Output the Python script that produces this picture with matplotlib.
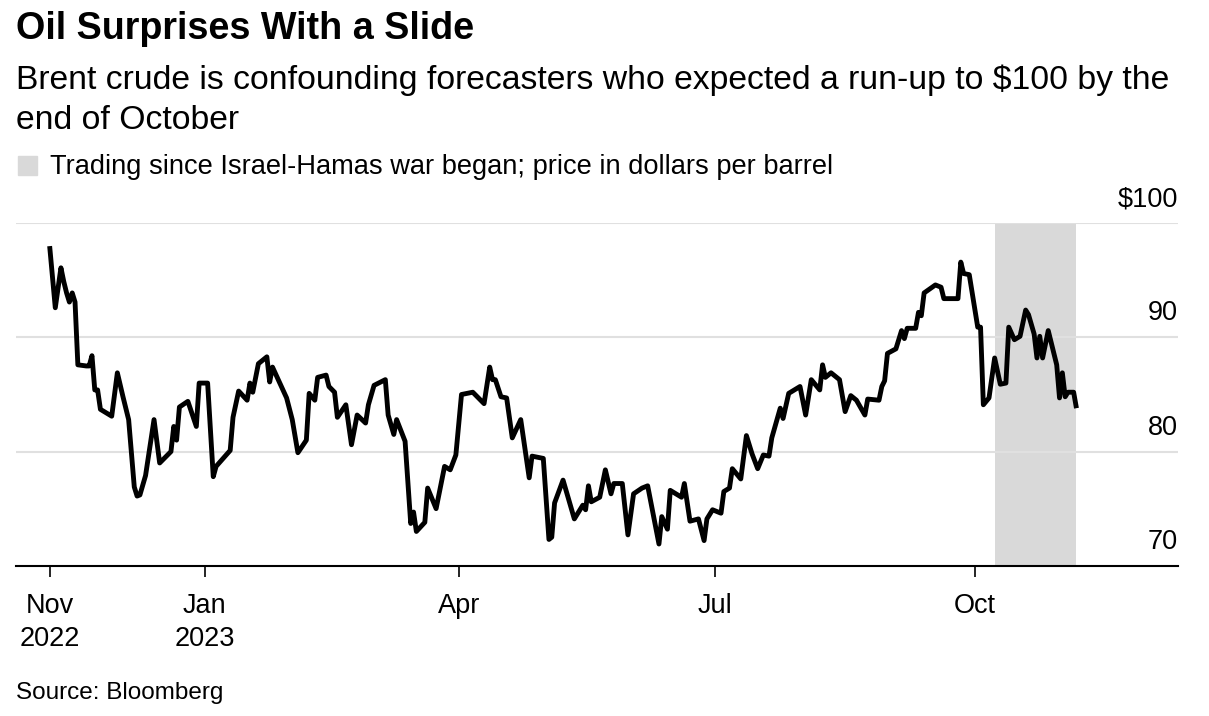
"""
Brent crude chart: oil surprises with a slide
"""
import matplotlib
matplotlib.use('Agg')
import matplotlib.pyplot as plt
import matplotlib.transforms as mtransforms
from matplotlib.patches import Rectangle
import pandas as pd

plt.rcParams['font.family'] = ['Liberation Sans', 'DejaVu Sans']

# Brent crude, dollars per barrel
dates = [
    "2022-11-07", "2022-11-09", "2022-11-11", "2022-11-12", "2022-11-13", "2022-11-14",
    "2022-11-15", "2022-11-16", "2022-11-17", "2022-11-20", "2022-11-21", "2022-11-22",
    "2022-11-23", "2022-11-24", "2022-11-25", "2022-11-29", "2022-12-01", "2022-12-03",
    "2022-12-05", "2022-12-07", "2022-12-08", "2022-12-09", "2022-12-11", "2022-12-14",
    "2022-12-16", "2022-12-20", "2022-12-21", "2022-12-22", "2022-12-23", "2022-12-26",
    "2022-12-29", "2022-12-30", "2023-01-02", "2023-01-04", "2023-01-05", "2023-01-10",
    "2023-01-11", "2023-01-13", "2023-01-16", "2023-01-17", "2023-01-18", "2023-01-20",
    "2023-01-23", "2023-01-24", "2023-01-25", "2023-01-30", "2023-02-01", "2023-02-03",
    "2023-02-06", "2023-02-07", "2023-02-09", "2023-02-10", "2023-02-13", "2023-02-14",
    "2023-02-16", "2023-02-17", "2023-02-20", "2023-02-22", "2023-02-24", "2023-02-27",
    "2023-02-28", "2023-03-02", "2023-03-06", "2023-03-07", "2023-03-09", "2023-03-10",
    "2023-03-13", "2023-03-15", "2023-03-16", "2023-03-17", "2023-03-20", "2023-03-21",
    "2023-03-24", "2023-03-27", "2023-03-29", "2023-03-31", "2023-04-02", "2023-04-06",
    "2023-04-10", "2023-04-12", "2023-04-13", "2023-04-14", "2023-04-16", "2023-04-18",
    "2023-04-20", "2023-04-23", "2023-04-26", "2023-04-27", "2023-05-01", "2023-05-03",
    "2023-05-04", "2023-05-05", "2023-05-08", "2023-05-12", "2023-05-15", "2023-05-16",
    "2023-05-17", "2023-05-18", "2023-05-21", "2023-05-23", "2023-05-25", "2023-05-26",
    "2023-05-29", "2023-05-31", "2023-06-02", "2023-06-05", "2023-06-07", "2023-06-11",
    "2023-06-12", "2023-06-14", "2023-06-15", "2023-06-19", "2023-06-20", "2023-06-22",
    "2023-06-25", "2023-06-27", "2023-06-28", "2023-06-30", "2023-07-03", "2023-07-04",
    "2023-07-06", "2023-07-07", "2023-07-10", "2023-07-12", "2023-07-14", "2023-07-16",
    "2023-07-18", "2023-07-20", "2023-07-21", "2023-07-24", "2023-07-25", "2023-07-27",
    "2023-07-31", "2023-08-02", "2023-08-04", "2023-08-07", "2023-08-08", "2023-08-09",
    "2023-08-11", "2023-08-14", "2023-08-16", "2023-08-18", "2023-08-20", "2023-08-23",
    "2023-08-24", "2023-08-28", "2023-08-29", "2023-08-30", "2023-08-31", "2023-09-03",
    "2023-09-05", "2023-09-06", "2023-09-07", "2023-09-10", "2023-09-11", "2023-09-12",
    "2023-09-13", "2023-09-17", "2023-09-19", "2023-09-20", "2023-09-25", "2023-09-26",
    "2023-09-27", "2023-09-29", "2023-10-02", "2023-10-03", "2023-10-04", "2023-10-06",
    "2023-10-08", "2023-10-10", "2023-10-12", "2023-10-13", "2023-10-15", "2023-10-17",
    "2023-10-19", "2023-10-20", "2023-10-22", "2023-10-23", "2023-10-24", "2023-10-25",
    "2023-10-27", "2023-10-30", "2023-10-31", "2023-11-01", "2023-11-02", "2023-11-03",
    "2023-11-05", "2023-11-06",
]
prices = [
    98.0, 92.6, 96.1, 94.9, 93.9, 93.1,
    93.9, 93.1, 87.6, 87.5, 87.5, 88.4,
    85.4, 85.4, 83.7, 83.1, 86.9, 84.8,
    82.8, 76.9, 76.1, 76.2, 77.9, 82.8,
    79.0, 80.0, 82.2, 81.0, 83.9, 84.4,
    82.2, 86.0, 86.0, 77.8, 78.7, 80.1,
    83.0, 85.3, 84.5, 86.0, 85.2, 87.7,
    88.3, 86.1, 87.4, 84.7, 82.8, 79.9,
    81.0, 85.1, 84.5, 86.5, 86.7, 85.7,
    85.2, 83.0, 84.1, 80.6, 83.2, 82.5,
    84.1, 85.8, 86.3, 83.2, 81.5, 82.8,
    80.9, 73.7, 74.7, 73.0, 73.8, 76.8,
    75.0, 78.7, 78.4, 79.7, 85.0, 85.2,
    84.2, 87.4, 86.3, 86.3, 84.8, 84.7,
    81.2, 82.8, 77.7, 79.6, 79.4, 72.3,
    72.5, 75.5, 77.5, 74.1, 75.3, 74.9,
    77.0, 75.6, 76.0, 78.4, 76.3, 77.2,
    77.2, 72.7, 76.3, 76.8, 77.0, 71.9,
    74.3, 73.2, 76.6, 76.0, 77.2, 73.9,
    74.1, 72.2, 74.1, 74.9, 74.6, 76.5,
    76.8, 78.5, 77.6, 81.4, 79.8, 78.5,
    79.7, 79.6, 81.2, 83.8, 82.9, 85.1,
    85.7, 83.2, 86.3, 85.4, 87.6, 86.5,
    86.9, 86.3, 83.5, 84.9, 84.5, 83.2,
    84.6, 84.5, 85.7, 86.2, 88.6, 89.0,
    90.6, 89.9, 90.8, 90.8, 92.2, 91.9,
    93.9, 94.6, 94.4, 93.4, 93.4, 96.6,
    95.6, 95.5, 90.9, 90.9, 84.1, 84.7,
    88.2, 85.9, 86.0, 90.9, 89.8, 90.1,
    92.4, 92.0, 90.3, 88.2, 90.1, 88.2,
    90.6, 87.6, 84.7, 86.9, 84.8, 85.2,
    85.2, 83.8,
]

war_start = "2023-10-08"
war_end = "2023-11-06"

xtick_dates = ["2022-11-07", "2023-01-01", "2023-04-01", "2023-07-01", "2023-10-01"]
xtick_labels = ["Nov\n2022", "Jan\n2023", "Apr", "Jul", "Oct"]
ytick_vals = [70, 80, 90, 100]
ytick_labels = ["70", "80", "90", "$100"]

title = "Oil Surprises With a Slide"
subtitle1 = "Brent crude is confounding forecasters who expected a run-up to $100 by the"
subtitle2 = "end of October"
legend_text = "Trading since Israel-Hamas war began; price in dollars per barrel"
source = "Source: Bloomberg"

W, H = 1209, 716
SHADE = '#d9d9d9'
GRID = '#e0e0e0'


def fx(px):
    return px / W


def fy(py):
    return 1 - py / H


fig = plt.figure(figsize=(W / 100, H / 100), dpi=100)
ax = fig.add_axes([fx(15.8), fy(565.7), fx(1178) - fx(15.8), (565.7 - 223.3) / H])

x = pd.to_datetime(dates)
ax.axvspan(pd.Timestamp(war_start), pd.Timestamp(war_end), color=SHADE, lw=0, zorder=0)
for v in ytick_vals[1:]:
    ax.axhline(v, color=GRID, lw=1.5, zorder=1)
ax.plot(x, prices, color='black', lw=3.5, solid_joinstyle='round',
        solid_capstyle='butt', zorder=3)

ax.set_xlim(pd.Timestamp("2022-10-26"), pd.Timestamp("2023-12-12"))
ax.set_ylim(70, 100)

for s in ['top', 'left', 'right']:
    ax.spines[s].set_visible(False)
ax.spines['bottom'].set_color('black')
ax.spines['bottom'].set_linewidth(1.5)
ax.spines['bottom'].set_zorder(4)

ax.set_xticks(pd.to_datetime(xtick_dates))
ax.set_xticklabels(xtick_labels, fontsize=19.5, linespacing=1.32)
ax.tick_params(axis='x', length=8, width=1.2, color='black', pad=12)
ax.set_yticks([])

trans = mtransforms.offset_copy(ax.get_yaxis_transform(), fig=fig, y=17, units='dots')
for v, lab in zip(ytick_vals, ytick_labels):
    ax.text(1, v, lab, transform=trans, ha='right', va='baseline', fontsize=19.5)

fig.text(fx(16), fy(39.3), title, fontsize=27.2, fontweight='bold', va='baseline')
fig.text(fx(16), fy(89.3), subtitle1, fontsize=24.3, va='baseline')
fig.text(fx(16), fy(129.3), subtitle2, fontsize=24.3, va='baseline')
fig.patches.append(Rectangle((fx(18.3), fy(175)), fx(19), 19 / H, color=SHADE,
                             transform=fig.transFigure, figure=fig))
fig.text(fx(50), fy(174), legend_text, fontsize=19.6, va='baseline')
fig.text(fx(16), fy(699), source, fontsize=17.5, va='baseline')

fig.savefig('out.png', dpi=100)
